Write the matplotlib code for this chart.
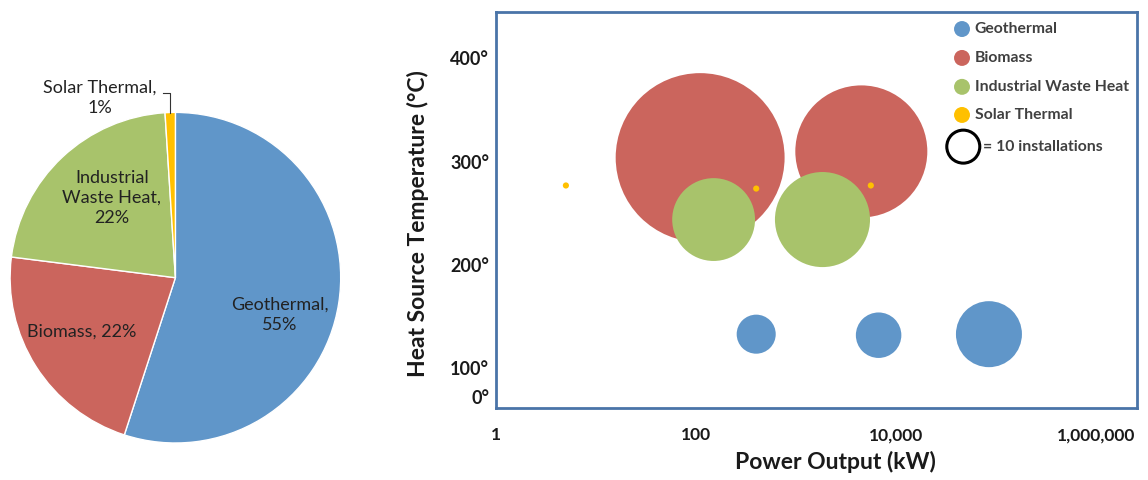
import numpy as np
import matplotlib.pyplot as plt

plt.rcParams['font.family'] = ['Lato', 'DejaVu Sans']

# pie: share of installations by heat source
pie_labels = ['Geothermal,\n55%', 'Biomass, 22%', 'Industrial\nWaste Heat,\n22%', 'Solar Thermal,\n1%']
pie_values = [55, 22, 22, 1]
pie_colors = ['#6096c9', '#cb655d', '#a8c36b', '#ffc000']

# bubbles: power output (kW), heat source temperature, number of installations
sources = ['Geothermal', 'Biomass', 'Industrial Waste Heat', 'Solar Thermal']
power = {
    'Geothermal': [400, 6700, 85000],
    'Biomass': [110, 4500],
    'Industrial Waste Heat': [150, 1840],
    'Solar Thermal': [5, 400, 5600],
}
temp = {
    'Geothermal': [133, 132, 133],
    'Biomass': [304, 310],
    'Industrial Waste Heat': [244, 244],
    'Solar Thermal': [277, 274, 277],
}
installs = {
    'Geothermal': [14, 19, 40],
    'Biomass': [262, 160],
    'Industrial Waste Heat': [63, 83],
    'Solar Thermal': [0.35, 0.35, 0.35],
}
colors = {
    'Geothermal': '#6096c9',
    'Biomass': '#cb655d',
    'Industrial Waste Heat': '#a8c36b',
    'Solar Thermal': '#ffc000',
}

x_ticks = [1, 100, 10000, 1000000]
x_ticklabels = ['1', '100', '10,000', '1,000,000']
y_ticks = [72, 100, 200, 300, 400]
y_ticklabels = ['0°', '100°', '200°', '300°', '400°']

R10 = 16.5 * 0.72  # radius in points of a 10-installation bubble


def bubble_area(n):
    r = R10 * np.sqrt(np.asarray(n) / 10.0)
    return (2 * r) ** 2


fig = plt.figure(figsize=(11.48, 4.8), dpi=100)
W, H = 1148, 480

# ---- pie ----
cx, cy, r = 175.4, 277.7, 165.3
axp = fig.add_axes([(cx - r) / W, 1 - (cy + r) / H, 2 * r / W, 2 * r / H])
axp.pie(pie_values, colors=pie_colors, startangle=90, counterclock=False,
        wedgeprops=dict(edgecolor='white', linewidth=1))
axp.set_xlim(-1, 1)
axp.set_ylim(-1, 1)
axp.set_aspect('equal')

label_pos = [(0.633, -0.226), (-0.565, -0.328), (-0.384, 0.482), (-0.456, 1.087)]
for lab, (lx, ly) in zip(pie_labels, label_pos):
    axp.text(lx, ly, lab, ha='center', va='center', fontsize=13,
             color='#222222', linespacing=1.3)
axp.plot([-0.075, -0.033, -0.033], [1.117, 1.117, 0.996], color='#333333', lw=0.8,
         clip_on=False)

# ---- bubble chart ----
L, R, T, B = 496, 1137, 12, 408
ax = fig.add_axes([L / W, 1 - B / H, (R - L) / W, (B - T) / H])
for s in sources:
    ax.scatter(power[s], temp[s], s=bubble_area(installs[s]), color=colors[s],
               edgecolors='none', zorder=3)
ax.set_xscale('log')
ax.set_xlim(1, 10 ** 6.41)
ax.set_ylim(61.5, 445)
ax.set_xticks(x_ticks)
ax.set_xticklabels(x_ticklabels)
ax.minorticks_off()
ax.set_yticks(y_ticks)
ax.set_yticklabels(y_ticklabels)
ax.tick_params(length=0, labelsize=13, labelcolor='#1a1a1a')
ax.tick_params(axis='x', pad=14, labelsize=12.5)
ax.tick_params(axis='y', pad=5)
for t in ax.get_xticklabels() + ax.get_yticklabels():
    t.set_fontweight('bold')
for sp in ax.spines.values():
    sp.set_color('#4a74a8')
    sp.set_linewidth(2)

ax.set_xlabel('Power Output (kW)', fontsize=16.5, fontweight='bold', color='#1a1a1a', va='center')
ax.xaxis.set_label_coords(0.530, -0.136)
ax.set_ylabel('Heat Source Temperature (°C)', fontsize=16.5, fontweight='bold', color='#1a1a1a', va='center')
ax.yaxis.set_label_coords(-0.1217, 0.467)

# legend drawn by hand
leg_y = [0.957, 0.884, 0.811, 0.740]
for s, yy in zip(sources, leg_y):
    ax.scatter([0.727], [yy], s=132, color=colors[s], transform=ax.transAxes,
               edgecolors='none', clip_on=False, zorder=4)
    ax.text(0.747, yy, s, transform=ax.transAxes, va='center', ha='left',
            fontsize=11.3, fontweight='bold', color='#404040')
ax.scatter([0.729], [0.660], s=(2 * R10) ** 2, facecolors='none', edgecolors='black',
           linewidths=2.2, transform=ax.transAxes, zorder=4)
ax.text(0.760, 0.660, '= 10 installations', transform=ax.transAxes, va='center',
        ha='left', fontsize=11.3, fontweight='bold', color='#404040')

fig.savefig('out.png', dpi=100)
